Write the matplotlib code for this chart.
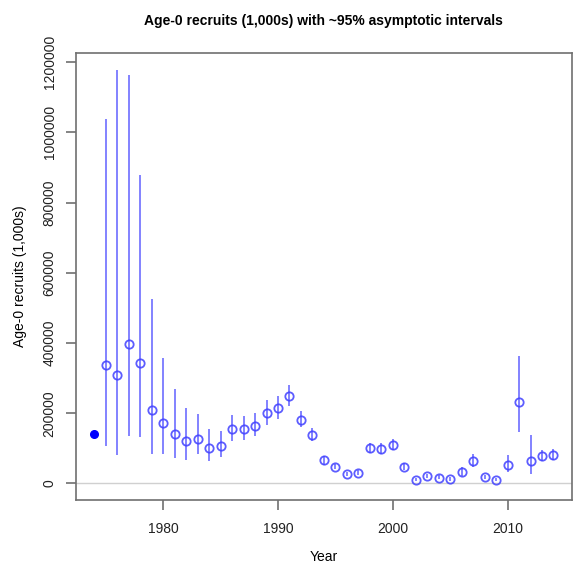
import numpy as np
import matplotlib
matplotlib.use("Agg")
import matplotlib.pyplot as plt

plt.rcParams['font.family'] = ['Liberation Sans', 'DejaVu Sans']

# first year has no interval (filled point)
first_year = 1974
first_value = 140000

years = list(range(1975, 2015))
recruits = [336000, 310000, 398000, 343000, 208000, 171000, 142000, 120000, 127000, 102000,
            106000, 155000, 155000, 164000, 201000, 215000, 250000, 182000, 139000, 65500,
            48000, 26500, 31000, 102000, 99000, 110000, 48000, 10500, 20000, 17000,
            12300, 32000, 63000, 18000, 10500, 52000, 231000, 63000, 79000, 80000]
lower = [108000, 80000, 135000, 132000, 83000, 83000, 73000, 67000, 83000, 65000,
         75000, 122000, 125000, 134000, 167000, 183000, 222000, 160000, 120000, 54000,
         41000, 21000, 25000, 88000, 85000, 94000, 39000, 6500, 14500, 12000,
         8000, 20000, 46000, 12500, 6500, 32000, 148000, 28000, 65000, 66000]
upper = [1039000, 1178000, 1162000, 877000, 526000, 358000, 268000, 215000, 199000, 156000,
         150000, 194000, 191000, 200000, 239000, 250000, 281000, 206000, 158000, 79000,
         56000, 33000, 38000, 115000, 114000, 127000, 58000, 16000, 27000, 23000,
         18000, 46000, 85000, 25000, 16000, 80000, 362000, 139000, 94000, 97000]

fig = plt.figure(figsize=(5.73, 5.66), dpi=100)
ax = fig.add_axes([0.1326, 0.1166, 0.8654, 0.7898])

blue = (0.3, 0.3, 1.0, 0.7)
ax.axhline(0, color='#d0d0d0', lw=1, zorder=1)
ax.vlines(years, lower, upper, color=blue, lw=1.4, zorder=2)
ax.plot(years, recruits, 'o', ms=6, mfc='none', mec=(0.25, 0.25, 1.0, 0.85), mew=1.3, zorder=3)
ax.plot([first_year], [first_value], 'o', ms=5.5, color='#0000ff', zorder=3)

ax.set_xlim(1972.4, 2015.6)
ax.set_ylim(-47000, 1225700)
ax.set_xticks([1980, 1990, 2000, 2010])
ax.set_yticks(np.arange(0, 1200001, 200000))
ax.set_yticklabels([str(v) for v in range(0, 1200001, 200000)], rotation=90, va='center')

for s in ax.spines.values():
    s.set_color('#707070')
    s.set_linewidth(1.2)
ax.tick_params(colors='#707070', labelcolor='#222222', labelsize=10, length=7, width=1.2)
ax.tick_params(axis='x', pad=9)
ax.tick_params(axis='y', pad=7)

ax.set_xlabel('Year', fontsize=10, labelpad=10)
ax.set_ylabel('Age-0 recruits (1,000s)', fontsize=10, labelpad=11)
fig.suptitle('Age-0 recruits (1,000s) with ~95% asymptotic intervals',
             x=0.565, y=0.975, fontsize=10, fontweight='bold')

fig.savefig('out.png', dpi=100)
